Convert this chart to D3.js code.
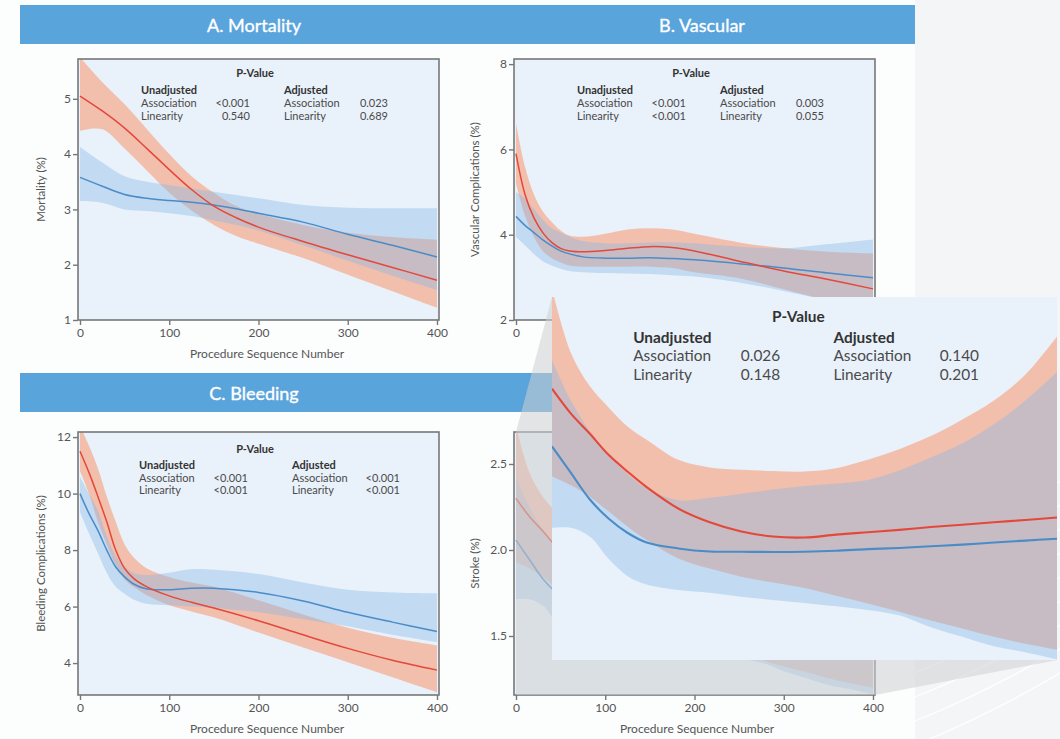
<!DOCTYPE html>
<meta charset="utf-8">
<script src="https://d3js.org/d3.v7.min.js"></script>
<style>
  body { margin: 0; background: #f4f5f7; }
  svg { display: block; font-family: Lato, "Open Sans", sans-serif; }
</style>
<body>
<div id="chart"></div>
<script>
const width = 1060, height = 739;

// ---- data ----
const xTicks = [0, 100, 200, 300, 400];

// A. Mortality
const mortN      = [0, 25, 50, 75, 100, 125, 150, 175, 200, 250, 300, 350, 400];
const mortRed    = [5.05, 4.78, 4.47, 4.1, 3.72, 3.36, 3.06, 2.85, 2.68, 2.42, 2.18, 1.95, 1.72];
const mortRedLo  = [4.42, 4.45, 4.1, 3.7, 3.3, 2.98, 2.72, 2.52, 2.38, 2.12, 1.82, 1.52, 1.22];
const mortRedHi  = [5.75, 5.3, 4.9, 4.45, 4.0, 3.6, 3.3, 3.06, 2.92, 2.72, 2.58, 2.5, 2.45];
const mortBlue   = [3.58, 3.42, 3.27, 3.2, 3.16, 3.13, 3.08, 3.01, 2.93, 2.77, 2.55, 2.35, 2.14];
const mortBlueLo = [3.15, 3.12, 3.0, 2.97, 2.93, 2.88, 2.8, 2.72, 2.62, 2.35, 2.07, 1.8, 1.54];
const mortBlueHi = [4.13, 3.85, 3.6, 3.5, 3.44, 3.38, 3.32, 3.26, 3.2, 3.08, 3.03, 3.02, 3.02];
const mortTicks  = [1, 2, 3, 4, 5];
const mortP      = ['<0.001', '0.540', '0.023', '0.689'];

// B. Vascular
const vascN      = [0, 10, 20, 30, 40, 50, 60, 75, 100, 125, 150, 175, 200, 250, 300, 350, 400];
const vascRed    = [5.9, 4.95, 4.4, 4.05, 3.82, 3.68, 3.62, 3.6, 3.63, 3.68, 3.72, 3.7, 3.62, 3.38, 3.15, 2.95, 2.73];
const vascRedLo  = [5.2, 4.45, 3.95, 3.62, 3.45, 3.35, 3.28, 3.25, 3.25, 3.25, 3.25, 3.22, 3.12, 2.98, 2.72, 2.45, 2.2];
const vascRedHi  = [6.6, 5.6, 4.95, 4.55, 4.3, 4.1, 3.98, 3.95, 4.02, 4.12, 4.15, 4.12, 4.02, 3.82, 3.68, 3.6, 3.56];
const vascBlue   = [4.43, 4.22, 4.05, 3.88, 3.74, 3.62, 3.55, 3.48, 3.45, 3.45, 3.46, 3.44, 3.41, 3.32, 3.22, 3.1, 2.99];
const vascBlueLo = [3.95, 3.75, 3.55, 3.38, 3.28, 3.2, 3.15, 3.12, 3.1, 3.09, 3.08, 3.05, 3.02, 2.88, 2.68, 2.45, 2.2];
const vascBlueHi = [5.0, 4.85, 4.6, 4.35, 4.15, 4.05, 3.95, 3.85, 3.8, 3.8, 3.82, 3.82, 3.8, 3.72, 3.68, 3.78, 3.89];
const vascTicks  = [2, 4, 6, 8];
const vascP      = ['<0.001', '<0.001', '0.003', '0.055'];

// C. Bleeding
const bleedN      = [0, 10, 20, 30, 40, 50, 60, 75, 100, 125, 150, 200, 250, 300, 350, 400];
const bleedRed    = [11.5, 10.75, 9.9, 9.0, 8.0, 7.35, 7.0, 6.7, 6.38, 6.15, 5.95, 5.5, 5.0, 4.52, 4.1, 3.75];
const bleedRedLo  = [10.8, 10.0, 9.0, 8.2, 7.45, 6.95, 6.7, 6.4, 6.05, 5.83, 5.62, 5.08, 4.55, 4.03, 3.5, 2.97];
const bleedRedHi  = [12.4, 11.7, 10.9, 9.9, 9.0, 8.2, 7.75, 7.35, 7.05, 6.85, 6.7, 6.22, 5.72, 5.25, 4.9, 4.63];
const bleedBlue   = [10.0, 9.3, 8.7, 8.0, 7.4, 7.05, 6.8, 6.62, 6.6, 6.65, 6.65, 6.5, 6.2, 5.8, 5.45, 5.12];
const bleedBlueLo = [9.35, 8.6, 7.9, 7.2, 6.7, 6.45, 6.25, 6.1, 6.05, 6.0, 5.95, 5.8, 5.55, 5.3, 5.0, 4.74];
const bleedBlueHi = [10.6, 10.0, 9.4, 8.5, 7.8, 7.4, 7.2, 7.12, 7.2, 7.32, 7.3, 7.15, 6.85, 6.6, 6.5, 6.47];
const bleedTicks  = [4, 6, 8, 10, 12];
const bleedP      = ['<0.001', '<0.001', '<0.001', '<0.001'];

// D. Stroke
const strokeN      = [0, 15, 30, 45, 60, 75, 100, 125, 150, 175, 200, 225, 250, 275, 300, 325, 350, 375, 400];
const strokeRed    = [2.3, 2.195, 2.11, 2.02, 1.95, 1.885, 1.795, 1.737, 1.698, 1.677, 1.673, 1.685, 1.695, 1.705, 1.717, 1.727, 1.737, 1.747, 1.757];
const strokeRedLo  = [1.93, 1.893, 1.845, 1.782, 1.718, 1.662, 1.585, 1.542, 1.508, 1.483, 1.46, 1.428, 1.395, 1.36, 1.323, 1.29, 1.255, 1.225, 1.2];
const strokeRedHi  = [2.72, 2.45, 2.31, 2.22, 2.14, 2.085, 2.0, 1.968, 1.958, 1.953, 1.951, 1.965, 2.0, 2.045, 2.1, 2.17, 2.25, 2.36, 2.52];
const strokeBlue   = [2.057, 1.945, 1.833, 1.752, 1.692, 1.652, 1.627, 1.614, 1.613, 1.612, 1.613, 1.617, 1.624, 1.629, 1.636, 1.643, 1.652, 1.66, 1.668];
const strokeBlueLo = [1.714, 1.714, 1.677, 1.582, 1.51, 1.475, 1.452, 1.44, 1.423, 1.41, 1.397, 1.383, 1.368, 1.345, 1.295, 1.255, 1.215, 1.19, 1.16];
const strokeBlueHi = [2.42, 2.25, 2.12, 2.02, 1.94, 1.88, 1.83, 1.84, 1.857, 1.875, 1.89, 1.9, 1.915, 1.955, 2.01, 2.07, 2.15, 2.25, 2.37];
const strokeTicks  = [1.5, 2.0, 2.5];
const strokeP      = ['0.026', '0.148', '0.140', '0.201'];

const titles = ['A. Mortality', 'B. Vascular', 'C. Bleeding', 'D. Stroke'];

// ---- layout ----
const cols = [
  {fx: 78, fw: 361, x0: 80, x1: 437, yTitleX: 45, xTitleX: 267, headX: 254},
  {fx: 514, fw: 361, x0: 516, x1: 873, yTitleX: 479, xTitleX: 697, headX: 702}
];
const rows = [
  {fy: 59, fh: 261, barY: 5},
  {fy: 432, fh: 263, barY: 373}
];
const layStd = {pX: 177, unX: 63, valX: 172, adjX: 206, adjValX: 310, ys: [18, 35, 48, 61]};
const layC = {pX: 177, unX: 61, valX: 170, adjX: 214, adjValX: 322, ys: [21, 37, 50, 62]};
const layZoom = {pX: 176, unX: 58, valX: 163, adjX: 201, adjValX: 305, ys: [18, 33, 46, 59]};

const panels = [
  {col: 0, row: 0, yLabel: 'Mortality (%)', n: mortN, red: mortRed, redLo: mortRedLo, redHi: mortRedHi,
   blue: mortBlue, blueLo: mortBlueLo, blueHi: mortBlueHi, yDomain: [1, 5.72], yTicks: mortTicks, fmt: 'd', p: mortP, lay: layStd},
  {col: 1, row: 0, yLabel: 'Vascular Complications (%)', n: vascN, red: vascRed, redLo: vascRedLo, redHi: vascRedHi,
   blue: vascBlue, blueLo: vascBlueLo, blueHi: vascBlueHi, yDomain: [2, 8.12], yTicks: vascTicks, fmt: 'd', p: vascP, lay: layStd},
  {col: 0, row: 1, yLabel: 'Bleeding Complications (%)', n: bleedN, red: bleedRed, redLo: bleedRedLo, redHi: bleedRedHi,
   blue: bleedBlue, blueLo: bleedBlueLo, blueHi: bleedBlueHi, yDomain: [2.87, 12.18], yTicks: bleedTicks, fmt: 'd', p: bleedP, lay: layC},
  {col: 1, row: 1, yLabel: 'Stroke (%)', n: strokeN, red: strokeRed, redLo: strokeRedLo, redHi: strokeRedHi,
   blue: strokeBlue, blueLo: strokeBlueLo, blueHi: strokeBlueHi, yDomain: [1.157, 2.686], yTicks: strokeTicks, fmt: '.1f', p: strokeP, lay: layStd}
];

const svg = d3.select('#chart').append('svg')
  .attr('width', width)
  .attr('height', height);

// background + faint decorative lines bottom right
svg.append('rect').attr('width', width).attr('height', height).attr('fill', '#f4f5f7');
const deco = svg.append('g').attr('fill', 'none').attr('stroke', '#ffffff').attr('stroke-width', 1.3);
d3.range(9).forEach(i => {
  const y0 = 745 - i * 24;
  deco.append('path').attr('d', `M915,${y0} Q990,${y0 - 30} 1065,${y0 - 75}`);
});
svg.append('rect').attr('x', 0).attr('y', 0).attr('width', 915).attr('height', height).attr('fill', '#fcfdfd');

// header bars
rows.forEach(r => {
  svg.append('rect').attr('x', 20).attr('y', r.barY).attr('width', 895).attr('height', 39).attr('fill', '#5aa4dc');
});
panels.forEach((p, i) => {
  svg.append('text')
    .attr('x', cols[p.col].headX)
    .attr('y', rows[p.row].barY + 27)
    .attr('text-anchor', 'middle')
    .attr('fill', '#fff')
    .attr('font-size', 18)
    .attr('stroke', '#fff')
    .attr('stroke-width', 0.35)
    .text(titles[i]);
});

// draws bands, lines and p-value table of one plot area
function drawInterior(g, p, x, y, box, k, lay, clipId) {
  g.append('rect').attr('x', box.x).attr('y', box.y).attr('width', box.w).attr('height', box.h).attr('fill', '#e9f1fa');
  g.append('clipPath').attr('id', clipId).append('rect')
    .attr('x', box.x).attr('y', box.y).attr('width', box.w).attr('height', box.h);
  const c = g.append('g').attr('clip-path', `url(#${clipId})`);
  const band = (lo, hi) => d3.area().curve(d3.curveCatmullRom)
    .x(d => x(d)).y0((d, i) => y(lo[i])).y1((d, i) => y(hi[i]))(p.n);
  const line = v => d3.line().curve(d3.curveCatmullRom)
    .x(d => x(d)).y((d, i) => y(v[i]))(p.n);
  c.append('path').attr('d', band(p.redLo, p.redHi)).attr('fill', 'rgb(248,159,122)').attr('fill-opacity', 0.6);
  c.append('path').attr('d', band(p.blueLo, p.blueHi)).attr('fill', 'rgb(136,184,230)').attr('fill-opacity', 0.4);
  c.append('path').attr('d', line(p.blue)).attr('fill', 'none').attr('stroke', '#4a8cc8').attr('stroke-width', 1.5 * k);
  c.append('path').attr('d', line(p.red)).attr('fill', 'none').attr('stroke', '#e4483a').attr('stroke-width', 1.5 * k);

  const fs = 11 * k;
  const t = (tx, ty, s, bold, anchor) => g.append('text')
    .attr('x', box.x + tx * k).attr('y', box.y + ty * k)
    .attr('font-size', fs).attr('font-weight', bold ? 700 : 400)
    .attr('fill', bold ? '#333' : '#4a4a4a')
    .attr('text-anchor', anchor || 'start')
    .text(s);
  t(lay.pX, lay.ys[0], 'P-Value', true, 'middle');
  t(lay.unX, lay.ys[1], 'Unadjusted', true);
  t(lay.unX, lay.ys[2], 'Association');
  t(lay.unX, lay.ys[3], 'Linearity');
  t(lay.valX, lay.ys[2], p.p[0], false, 'end');
  t(lay.valX, lay.ys[3], p.p[1], false, 'end');
  t(lay.adjX, lay.ys[1], 'Adjusted', true);
  t(lay.adjX, lay.ys[2], 'Association');
  t(lay.adjX, lay.ys[3], 'Linearity');
  t(lay.adjValX, lay.ys[2], p.p[2], false, 'end');
  t(lay.adjValX, lay.ys[3], p.p[3], false, 'end');
}

panels.forEach((p, i) => {
  const cl = cols[p.col], r = rows[p.row];
  const g = svg.append('g');
  const x = d3.scaleLinear().domain([0, 400]).range([cl.x0, cl.x1]);
  const y = d3.scaleLinear().domain(p.yDomain).range([r.fy + r.fh, r.fy]);
  const box = {x: cl.fx, y: r.fy, w: cl.fw, h: r.fh};
  drawInterior(g, p, x, y, box, 1, p.lay, 'clip' + i);

  // frame
  g.append('rect').attr('x', box.x).attr('y', box.y).attr('width', box.w).attr('height', box.h)
    .attr('fill', 'none').attr('stroke', '#777').attr('stroke-width', 1.6);

  // axes
  const axisY = r.fy + r.fh;
  const ya = g.append('g').attr('transform', `translate(${cl.fx},0)`)
    .call(d3.axisLeft(y).tickValues(p.yTicks).tickSize(5).tickFormat(d3.format(p.fmt)));
  ya.select('.domain').remove();
  ya.selectAll('line').attr('stroke', '#777').attr('stroke-width', 1.4);
  ya.selectAll('text').attr('font-size', 12).attr('fill', '#555').attr('font-family', 'Lato, sans-serif').attr('x', -7);

  const xa = g.append('g').attr('transform', `translate(0,${axisY})`)
    .call(d3.axisBottom(x).tickValues(xTicks).tickSize(5).tickFormat(d3.format('d')));
  xa.select('.domain').remove();
  xa.selectAll('line').attr('stroke', '#777').attr('stroke-width', 1.4);
  xa.selectAll('text').attr('font-size', 12).attr('fill', '#555').attr('font-family', 'Lato, sans-serif').attr('y', 8);

  g.append('text')
    .attr('x', cl.xTitleX).attr('y', axisY + 38)
    .attr('text-anchor', 'middle').attr('font-size', 12).attr('fill', '#555')
    .text('Procedure Sequence Number');
  g.append('text')
    .attr('transform', `translate(${cl.yTitleX},${r.fy + r.fh / 2}) rotate(-90)`)
    .attr('text-anchor', 'middle').attr('font-size', 11.5).attr('fill', '#555')
    .text(p.yLabel);
});

// magnifier cone from the stroke plot to the enlarged view
const zoomBox = {x: 552, y: 297, w: 505, h: 363};
const src = {x0: 516, y0: 432, x1: 875, y1: 695};
svg.append('path')
  .attr('d', d3.line()([
    [src.x0, src.y0], [zoomBox.x, zoomBox.y], [zoomBox.x + zoomBox.w, zoomBox.y],
    [zoomBox.x + zoomBox.w, zoomBox.y + zoomBox.h], [src.x1, src.y1], [src.x0, src.y1]
  ]) + 'Z')
  .attr('fill', 'rgb(205,207,210)')
  .attr('fill-opacity', 0.55);

// enlarged stroke plot
const sp = panels[3];
const zx = d3.scaleLinear().domain([0, 400]).range([zoomBox.x, zoomBox.x + zoomBox.w]);
const zy = d3.scaleLinear().domain(sp.yDomain).range([zoomBox.y + zoomBox.h, zoomBox.y]);
drawInterior(svg.append('g'), sp, zx, zy, zoomBox, 1.4, layZoom, 'clipZoom');
</script>
</body>
